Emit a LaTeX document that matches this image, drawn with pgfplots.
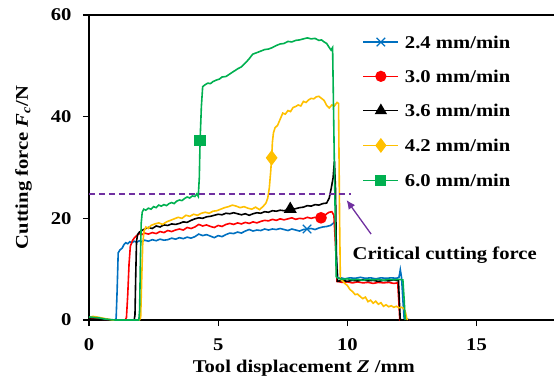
\documentclass[border=0pt]{standalone}
\usepackage{pgfplots}
\pgfplotsset{compat=1.18}
\usepackage{fontspec}
\setmainfont{Liberation Serif}[FakeStretch=1.15]
\usetikzlibrary{arrows.meta}
\definecolor{cblue}{HTML}{0070C0}
\definecolor{cred}{HTML}{FF0000}
\definecolor{cyel}{HTML}{FFC000}
\definecolor{cgreen}{HTML}{00B050}
\definecolor{cpurple}{HTML}{7030A0}
\newcommand{\ff}{\fontsize{18}{21}\selectfont\bfseries}
\begin{document}
\begin{tikzpicture}
\useasboundingbox (0,0) rectangle (554bp,381bp);
\begin{axis}[
  at={(89bp,61bp)}, anchor=south west,
  scale only axis, width=465bp, height=305bp,
  xmin=0, xmax=18, ymin=0, ymax=60,
  clip=false,
  axis x line*=bottom, axis y line*=left,
  axis line style={line width=1.2bp, -},
  xtick={0,5,10,15}, ytick={0,20,40,60},
  xticklabels={0,5,10,15}, yticklabels={0,20,40,60},
  tick align=outside, major tick length=6bp,
  tick style={line width=1.2bp, black},
  ticklabel style={font=\ff},
  xticklabel style={yshift=-9bp},
  yticklabel style={xshift=-8bp},
  label style={font=\ff},
  xlabel={Tool displacement {\itshape Z} /mm},
  ylabel={Cutting force {\itshape F}\textsubscript{\itshape c}/N},
  xlabel style={at={(rel axis cs:0.462,-0.1197)}, anchor=north},
  ylabel style={at={(rel axis cs:-0.1155,0.5)}, anchor=south},
  legend style={at={(axis cs:10.59,55.9)}, anchor=north west, draw=none, fill=none,
    font=\ff, inner sep=0pt, row sep=22.3bp, column sep=6bp,
    nodes={inner sep=0pt, text height=12bp, text depth=0bp}},
  legend cell align=left,
  legend image code/.code={\draw[#1, line width=1.2bp, mark indices={2}] plot coordinates {(0bp,0bp)(17.5bp,0bp)(35bp,0bp)};},
  every axis plot/.append style={line width=1.6bp},
]
% 2.4 mm/min
\addplot[cblue, mark=x, mark size=6bp, mark options={solid, line width=1.2bp}, mark indices={99999}] coordinates {
(0,0.3)(0.15,0.4)(0.3,0.35)(0.45,0.2)(0.6,0.1)(0.8,0.0)(1.0,0.0)(1.05,0.3)(1.09,6)(1.13,13.2)(1.2,13.8)(1.28,14.1)(1.35,14.8)(1.42,15.2)(1.5,15.0)(1.58,15.4)(1.66,15.2)(1.75,15.5)(1.85,15.3)(1.95,15.6)(2.05,15.4)(2.15,15.7)(2.3,15.5)(2.45,15.8)(2.6,15.6)(2.75,15.9)(2.9,15.7)(3.05,15.8)(3.2,16.1)(3.35,15.9)(3.5,16.2)(3.65,16.0)(3.8,16.3)(3.95,16.1)(4.1,16.4)(4.25,16.9)(4.4,16.6)(4.55,16.8)(4.7,16.5)(4.85,16.2)(5.0,16.6)(5.15,16.4)(5.3,16.8)(5.45,17.1)(5.6,17.0)(5.75,17.3)(5.9,17.1)(6.05,17.5)(6.2,17.8)(6.35,17.5)(6.5,17.7)(6.65,17.6)(6.8,17.9)(6.95,17.7)(7.1,17.9)(7.25,17.8)(7.4,18.0)(7.55,17.8)(7.7,17.6)(7.85,17.9)(8.0,17.7)(8.15,17.5)(8.3,17.8)(8.44,17.9)(8.6,18.0)(8.75,17.8)(8.9,18.1)(9.05,18.3)(9.2,18.4)(9.35,18.6)(9.45,19.0)(9.52,19.4)(9.58,12)(9.63,8.2)(9.75,8.3)(9.9,8.1)(10.1,8.3)(10.3,8.2)(10.5,8.4)(10.7,8.2)(10.9,8.3)(11.1,8.1)(11.3,8.3)(11.5,8.2)(11.7,8.3)(11.9,8.2)(12.0,8.4)(12.05,9.9)(12.1,8.3)(12.15,4)(12.2,0.2)(12.4,0.1)
};
\addlegendentry{2.4 mm/min}
% 3.0 mm/min
\addplot[cred, mark=*, mark size=5bp, mark options={solid}, mark indices={99999}] coordinates {
(0,0.2)(0.3,0.2)(0.6,0.1)(0.9,0.0)(1.2,0.0)(1.4,0.0)(1.45,0.5)(1.5,5)(1.55,11)(1.6,14.5)(1.68,15.6)(1.76,16.2)(1.85,16.6)(1.95,17.0)(2.05,16.8)(2.15,17.1)(2.3,16.9)(2.45,17.2)(2.6,17.0)(2.75,17.4)(2.9,17.2)(3.05,17.6)(3.2,17.4)(3.35,17.7)(3.5,17.9)(3.65,17.7)(3.8,18.2)(3.95,18.0)(4.1,18.3)(4.25,18.8)(4.4,18.5)(4.55,18.7)(4.7,18.4)(4.85,18.2)(5.0,18.6)(5.15,18.4)(5.3,18.8)(5.45,19.0)(5.6,18.8)(5.75,19.1)(5.9,18.9)(6.05,19.2)(6.2,19.0)(6.35,19.3)(6.5,19.1)(6.65,19.4)(6.8,19.6)(6.95,19.5)(7.1,19.8)(7.25,19.6)(7.4,19.9)(7.55,19.7)(7.7,19.9)(7.85,20.1)(8.0,19.8)(8.15,20.0)(8.3,19.9)(8.45,20.2)(8.6,20.0)(8.75,20.2)(8.98,20.1)(9.1,20.4)(9.2,20.9)(9.3,21.2)(9.4,21.3)(9.48,20.6)(9.55,14)(9.6,7.6)(9.8,7.4)(10.0,7.5)(10.2,7.3)(10.4,7.5)(10.6,7.3)(10.8,7.4)(11.0,7.2)(11.2,7.4)(11.4,7.3)(11.6,7.4)(11.8,7.2)(11.95,7.3)(12.0,3)(12.03,0)(12.4,0)
};
\addlegendentry{3.0 mm/min}
% 3.6 mm/min
\addplot[black, mark=triangle*, mark size=6bp, mark options={solid}, mark indices={99999}] coordinates {
(0,0.2)(0.4,0.1)(0.8,0.0)(1.2,0.0)(1.6,0.0)(1.75,0.0)(1.78,1)(1.81,9)(1.84,15.5)(1.88,16.8)(1.95,17.3)(2.05,17.6)(2.15,17.9)(2.3,18.2)(2.45,18.0)(2.6,18.5)(2.75,18.3)(2.9,18.7)(3.05,18.6)(3.2,18.9)(3.35,18.8)(3.5,19.0)(3.65,19.3)(3.8,19.2)(3.95,19.6)(4.1,19.9)(4.25,20.1)(4.4,20.0)(4.55,20.3)(4.7,20.4)(4.85,20.6)(5.0,20.8)(5.15,20.7)(5.3,21.0)(5.45,20.9)(5.6,21.1)(5.75,20.9)(5.9,20.7)(6.05,20.9)(6.2,20.6)(6.35,20.9)(6.5,21.1)(6.65,21.0)(6.8,21.3)(6.95,21.2)(7.1,21.5)(7.25,21.4)(7.4,21.6)(7.55,21.5)(7.7,21.7)(7.85,21.8)(8.0,21.9)(8.15,22.1)(8.3,22.2)(8.45,22.5)(8.6,22.4)(8.75,22.7)(8.9,22.6)(9.05,22.9)(9.2,23.0)(9.3,24.0)(9.38,26)(9.45,28)(9.5,31.3)(9.54,26)(9.58,12)(9.62,7.6)(9.8,7.8)(10.0,7.6)(10.2,7.8)(10.4,7.7)(10.6,7.9)(10.8,7.7)(11.0,7.8)(11.2,7.6)(11.4,7.8)(11.6,7.7)(11.8,7.9)(11.98,7.7)(12.02,3)(12.05,0)(12.4,0)
};
\addlegendentry{3.6 mm/min}
% 4.2 mm/min
\addplot[cyel, mark=diamond*, mark size=6.5bp, mark options={solid}, mark indices={99999}] coordinates {
(0,0.5)(0.15,0.7)(0.3,0.6)(0.5,0.4)(0.7,0.2)(0.9,0.0)(1.2,0.0)(1.6,0.0)(1.95,0.0)(2.0,0.5)(2.04,8)(2.08,15)(2.13,17.5)(2.2,18.3)(2.3,18.0)(2.4,18.6)(2.55,18.9)(2.7,19.1)(2.85,18.8)(3.0,19.3)(3.15,19.6)(3.3,19.9)(3.45,20.2)(3.6,20.0)(3.75,20.6)(3.9,20.4)(4.05,20.8)(4.2,20.6)(4.35,21.0)(4.5,21.2)(4.65,21.0)(4.8,21.4)(4.95,21.5)(5.1,21.8)(5.25,22.1)(5.4,22.3)(5.55,22.6)(5.7,22.4)(5.85,22.1)(6.0,22.3)(6.15,22.0)(6.3,21.8)(6.45,22.2)(6.6,21.7)(6.75,22.4)(6.85,23.0)(6.92,24.0)(6.98,26)(7.03,29)(7.07,31.9)(7.1,35)(7.14,36.8)(7.2,37.8)(7.3,38.3)(7.4,39.5)(7.5,40.7)(7.6,40.5)(7.7,41.2)(7.8,41.0)(7.9,41.8)(8.0,42.0)(8.1,42.3)(8.2,42.1)(8.3,43.0)(8.4,42.8)(8.5,43.3)(8.6,43.6)(8.7,43.5)(8.8,43.9)(8.9,44.0)(9.0,43.6)(9.1,43.2)(9.2,42.2)(9.3,41.7)(9.4,42.3)(9.5,42.1)(9.6,42.8)(9.66,42.6)(9.7,20)(9.73,8.0)(9.8,7.8)(9.9,7.2)(10.0,6.8)(10.1,6.0)(10.2,5.6)(10.3,5.0)(10.4,5.1)(10.5,4.6)(10.6,4.2)(10.7,4.5)(10.8,3.6)(10.9,3.9)(11.0,3.3)(11.1,3.7)(11.2,3.1)(11.3,3.4)(11.4,2.7)(11.5,3.0)(11.6,2.6)(11.7,2.8)(11.8,2.5)(11.9,2.7)(12.0,2.4)(12.1,2.5)(12.2,2.2)(12.25,1.5)(12.3,0.3)(12.33,0)
};
\addlegendentry{4.2 mm/min}
% 6.0 mm/min
\addplot[cgreen, mark=square*, mark size=5bp, mark options={solid}, mark indices={99999}] coordinates {
(0,0.6)(0.2,0.5)(0.4,0.4)(0.6,0.2)(0.8,0.1)(1.0,0.0)(1.4,0.0)(1.8,0.0)(1.93,0.0)(1.96,2)(1.99,12)(2.02,19)(2.06,21.2)(2.12,21.8)(2.2,21.6)(2.3,22.0)(2.4,21.8)(2.5,22.3)(2.6,22.1)(2.7,22.6)(2.8,22.4)(2.9,22.7)(3.0,22.5)(3.1,22.9)(3.2,23.1)(3.3,22.9)(3.4,23.4)(3.5,23.6)(3.6,23.5)(3.7,23.9)(3.8,24.2)(3.9,24.0)(4.0,24.4)(4.1,24.3)(4.17,24.8)(4.23,24.3)(4.27,28)(4.3,35.3)(4.35,42)(4.4,45.9)(4.5,46.3)(4.6,46.6)(4.7,46.5)(4.8,46.9)(4.93,47.2)(5.05,47.4)(5.15,47.8)(5.3,47.9)(5.45,48.4)(5.6,48.9)(5.75,49.4)(5.9,49.8)(6.0,50.3)(6.1,50.8)(6.2,51.4)(6.34,52.3)(6.5,52.6)(6.65,52.9)(6.8,53.2)(6.95,53.3)(7.1,53.6)(7.25,54.0)(7.4,54.3)(7.55,54.4)(7.7,54.8)(7.85,54.7)(8.0,55.0)(8.15,55.1)(8.3,55.3)(8.45,55.5)(8.6,55.3)(8.75,55.4)(8.9,55.0)(9.0,55.1)(9.1,54.7)(9.2,54.4)(9.3,53.6)(9.37,53.1)(9.43,53.6)(9.5,30)(9.57,8.5)(9.65,8.2)(9.8,8.0)(10.0,8.1)(10.2,7.9)(10.4,8.0)(10.6,7.8)(10.8,8.0)(11.0,7.9)(11.2,8.0)(11.4,7.8)(11.6,8.0)(11.8,7.9)(12.0,8.0)(12.15,7.9)(12.2,4)(12.24,0)
};
\addlegendentry{6.0 mm/min}
% markers
\addplot[forget plot, only marks, cblue, mark=x, mark size=6bp, mark options={line width=1.2bp}] coordinates {(8.44,17.9)};
\addplot[forget plot, only marks, cred, mark=*, mark size=5bp] coordinates {(8.98,20.1)};
\addplot[forget plot, only marks, black, mark=triangle*, mark size=6bp] coordinates {(7.79,21.8)};
\addplot[forget plot, only marks, cyel, mark=diamond*, mark size=6.5bp] coordinates {(7.07,31.9)};
\addplot[forget plot, only marks, cgreen, mark=square*, mark size=5bp] coordinates {(4.3,35.3)};
% critical force line
\addplot[forget plot, cpurple, line width=1.4bp, dash pattern=on 6bp off 4bp] coordinates {(0,24.8)(10.14,24.8)};
\draw[cpurple, line width=1.3bp, -{Latex[length=9bp,width=8bp]}] (axis cs:10.92,16.9) -- (axis cs:9.97,23.6);
\node[font=\ff, anchor=west, inner sep=0pt] at (axis cs:10.2,12.8) {Critical cutting force};
\draw[line width=1.2bp] (axis cs:0,60) -- (axis cs:18,60);
\end{axis}
\end{tikzpicture}
\end{document}
